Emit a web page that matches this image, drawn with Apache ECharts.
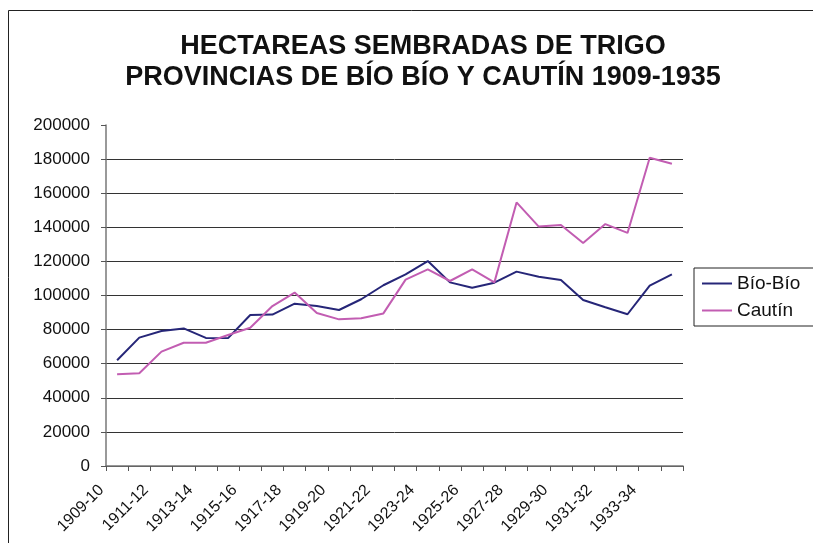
<!DOCTYPE html>
<html>
<head>
<meta charset="utf-8">
<script src="https://cdn.jsdelivr.net/npm/echarts@6/dist/echarts.min.js"></script>
<style>
  html, body { margin: 0; padding: 0; background: #fff; }
  #chart { width: 813px; height: 543px; }
</style>
</head>
<body>
<div id="chart"></div>
<script>
// años agrícolas 1909-10 .. 1934-35
const temporadas = ['1909-10','1910-11','1911-12','1912-13','1913-14','1914-15','1915-16','1916-17','1917-18','1918-19',
  '1919-20','1920-21','1921-22','1922-23','1923-24','1924-25','1925-26','1926-27','1927-28','1928-29',
  '1929-30','1930-31','1931-32','1932-33','1933-34','1934-35']

// hectáreas
const bioBio = [62000, 75300, 79200, 80700, 75100, 75000, 88600, 88800, 95200, 93800,
  91500, 97800, 106000, 112400, 120200, 107700, 104600, 107500, 114000, 111000,
  109100, 97400, 93100, 89000, 105800, 112400]
const cautin = [53800, 54400, 67100, 72300, 72300, 76800, 81100, 93800, 101700, 89700,
  86000, 86600, 89500, 109300, 115300, 108500, 115300, 107700, 154600, 140400,
  141400, 130800, 141900, 136700, 180800, 177300]

const fuente = 'Liberation Sans, Arial, sans-serif'

let chart = echarts.init(document.getElementById('chart'))
let option = {
  animation: false,
  backgroundColor: '#fff',
  textStyle: { fontFamily: fuente },
  title: {
    text: 'HECTAREAS SEMBRADAS DE TRIGO\nPROVINCIAS DE BÍO BÍO Y CAUTÍN 1909-1935',
    left: 418,
    top: 26,
    textAlign: 'center',
    textStyle: { fontFamily: fuente, fontSize: 27, fontWeight: 'bold', color: '#111', lineHeight: 31 }
  },
  graphic: [
    {
      type: 'rect',
      silent: true,
      shape: { x: 8.5, y: 10.5, width: 900, height: 600 },
      style: { fill: null, stroke: '#222', lineWidth: 1 }
    }
  ],
  legend: {
    orient: 'vertical',
    left: 694,
    top: 268,
    padding: [6, 40, 6, 8],
    borderColor: '#222',
    borderWidth: 1,
    itemWidth: 30,
    itemHeight: 2,
    itemGap: 8,
    icon: 'rect',
    textStyle: { fontFamily: fuente, fontSize: 19, color: '#111' },
    data: ['Bío-Bío', 'Cautín']
  },
  grid: { left: 106, right: 130, top: 125, bottom: 77 },
  xAxis: {
    type: 'category',
    data: temporadas,
    boundaryGap: true,
    axisLine: { lineStyle: { color: '#777', width: 1.5 } },
    axisTick: { show: true, length: 5, interval: 0, lineStyle: { color: '#555' } },
    axisLabel: { interval: 1, rotate: 45, fontSize: 16, color: '#111', margin: 6, padding: [0, 22, 0, 0] }
  },
  yAxis: {
    type: 'value',
    min: 0,
    max: 200000,
    interval: 20000,
    axisLine: { show: true, lineStyle: { color: '#777', width: 1.5 } },
    axisTick: { show: true, length: 5, lineStyle: { color: '#555' } },
    axisLabel: { fontSize: 17, color: '#111', margin: 16, formatter: v => String(v) },
    splitLine: { show: true, showMaxLine: false, lineStyle: { color: '#333', width: 1 } }
  },
  series: [
    {
      name: 'Bío-Bío',
      type: 'line',
      data: bioBio,
      symbol: 'none',
      color: '#262678',
      lineStyle: { width: 2 }
    },
    {
      name: 'Cautín',
      type: 'line',
      data: cautin,
      symbol: 'none',
      color: '#c25db2',
      lineStyle: { width: 2 }
    }
  ]
}
chart.setOption(option)
</script>
</body>
</html>
